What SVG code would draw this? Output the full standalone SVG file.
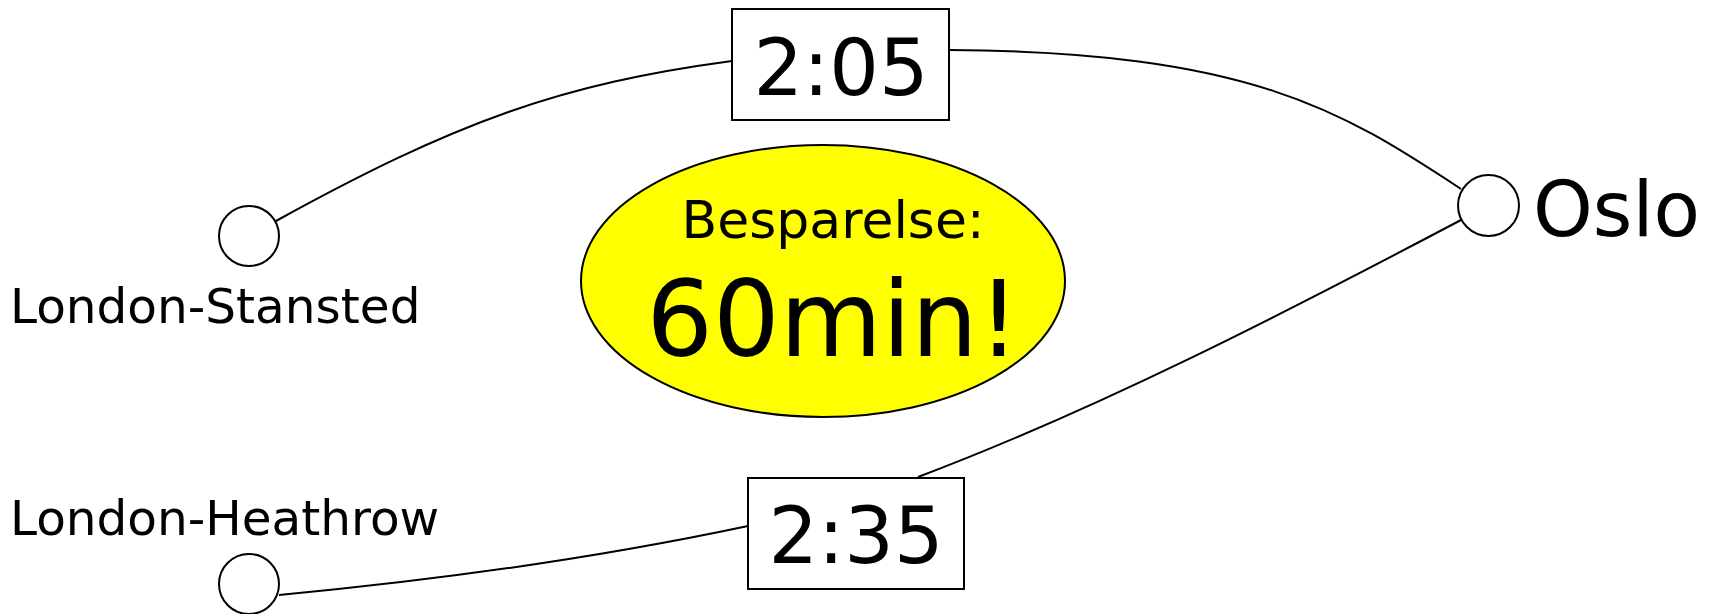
<svg xmlns="http://www.w3.org/2000/svg" width="1711" height="614" viewBox="0 0 1711 614">
<style>
.edge{fill:none;stroke:#000;stroke-width:2}
.node{fill:#fff;stroke:#000;stroke-width:2}
.t{font-family:"DejaVu Sans",Verdana,sans-serif;fill:#000}
</style>
<rect width="1711" height="614" fill="#fff"/>
<g id="connectors">
<path class="edge" d="M276,221 C456,122 560,84 732,61"/>
<path class="edge" d="M949,50 C1249,52 1341,110 1461,189"/>
<path class="edge" d="M1461,220 C1281,315 1098,409 918,477"/>
<path class="edge" d="M279,595 C439,580 597,558 748,526"/>
</g>
<g id="stansted">
<circle class="node" cx="249" cy="236" r="30"/>
<text class="t" x="10" y="323" font-size="48.5">London-Stansted</text>
</g>
<g id="heathrow">
<circle class="node" cx="249" cy="584" r="30"/>
<text class="t" x="10" y="535" font-size="48.5">London-Heathrow</text>
</g>
<g id="oslo">
<circle class="node" cx="1488.5" cy="205.5" r="30.5"/>
<text class="t" x="1533" y="236" font-size="76">Oslo</text>
</g>
<g id="time205">
<rect class="node" x="732" y="9" width="217" height="111"/>
<text class="t" x="841" y="95" font-size="78" text-anchor="middle">2:05</text>
</g>
<g id="time235">
<rect class="node" x="748" y="478" width="216" height="111"/>
<text class="t" x="856" y="563" font-size="78" text-anchor="middle">2:35</text>
</g>
<g id="saving">
<ellipse cx="823" cy="281" rx="242" ry="136" fill="#ffff00" stroke="#000" stroke-width="2"/>
<text class="t" x="833" y="238" font-size="52" text-anchor="middle">Besparelse:</text>
<text class="t" x="833" y="356" font-size="105" text-anchor="middle">60min!</text>
</g>
</svg>
